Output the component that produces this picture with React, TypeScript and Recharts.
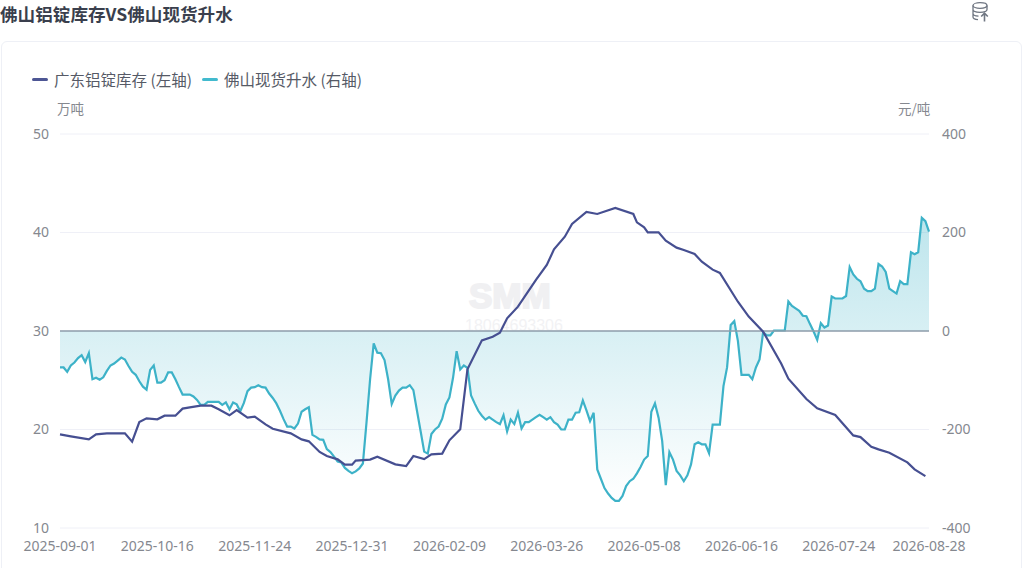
import {
  Area,
  CartesianGrid,
  ComposedChart,
  Legend,
  Line,
  ReferenceLine,
  XAxis,
  YAxis,
} from 'recharts';

const TITLE = '佛山铝锭库存VS佛山现货升水';
const STOCK_NAME = '广东铝锭库存 (左轴)';
const PREMIUM_NAME = '佛山现货升水 (右轴)';

const tickIndexes = [0, 27, 54, 81, 108, 135, 162, 189, 216, 241];
const tickLabels = [
  '2025-09-01', '2025-10-16', '2025-11-24', '2025-12-31', '2026-02-09',
  '2026-03-26', '2026-05-08', '2026-06-16', '2026-07-24', '2026-08-28',
];
const leftTicks = [10, 20, 30, 40, 50];
const rightTicks = [-400, -200, 0, 200, 400];

// 佛山现货升水, one value per trading day
const premium = [
  -74, -74, -83, -70, -64, -55, -49, -63, -45, -98,
  -95, -99, -94, -81, -70, -66, -60, -54, -58, -71,
  -83, -89, -102, -113, -119, -79, -70, -105, -105, -100,
  -84, -84, -98, -114, -129, -129, -129, -133, -140, -150,
  -150, -144, -144, -144, -144, -150, -145, -159, -145, -149,
  -163, -146, -122, -115, -114, -110, -114, -115, -127, -136,
  -147, -162, -179, -194, -194, -198, -188, -164, -159, -155,
  -211, -215, -220, -221, -240, -246, -255, -265, -267, -278,
  -284, -289, -285, -279, -269, -186, -98, -25, -44, -45,
  -59, -98, -148, -131, -121, -115, -115, -110, -120, -162,
  -203, -245, -249, -209, -200, -194, -178, -149, -135, -95,
  -41, -78, -70, -75, -131, -147, -162, -172, -180, -175,
  -180, -185, -189, -171, -204, -180, -189, -166, -198, -185,
  -185, -180, -175, -170, -175, -180, -175, -185, -190, -200,
  -200, -180, -180, -166, -165, -141, -161, -183, -166, -281,
  -300, -319, -330, -339, -345, -345, -335, -315, -305, -300,
  -289, -276, -261, -254, -164, -147, -176, -223, -313, -246,
  -261, -284, -293, -305, -293, -271, -230, -226, -230, -230,
  -248, -190, -190, -190, -112, -74, 12, 20, -20, -89,
  -89, -89, -98, -74, -58, -3, -9, -9, 1, 1,
  1, 1, 60, 51, 46, 41, 31, 30, 14, -1,
  -18, 16, 7, 11, 70, 66, 66, 66, 71, 130,
  115, 106, 101, 86, 81, 81, 86, 136, 131, 120,
  86, 81, 76, 101, 95, 95, 160, 156, 160, 230,
  223, 202,
];

// 广东铝锭库存 is only published on some days, so it gets its own index list
const stockDays = [
  0, 3, 8, 10, 13, 18, 20, 22, 24, 27, 29, 32, 34, 36, 39, 42, 44, 47, 49, 52,
  54, 57, 59, 64, 67, 69, 72, 74, 77, 79, 81, 82, 86, 88, 93, 96, 98, 101, 103,
  106, 108, 111, 113, 117, 120, 122, 124, 127, 132, 135, 137, 140, 142, 146,
  149, 154, 159, 160, 162, 163, 166, 168, 171, 173, 176, 178, 181, 183, 188,
  191, 195, 200, 202, 207, 210, 215, 220, 222, 225, 227, 230, 235, 237, 240,
];
const stockValues = [
  19.51, 19.31, 19.0, 19.51, 19.61, 19.61, 18.76, 20.76, 21.13, 21.03, 21.4,
  21.4, 22.12, 22.25, 22.42, 22.42, 22.05, 21.44, 21.98, 21.2, 21.3, 20.52,
  20.08, 19.61, 19.0, 18.8, 17.72, 17.31, 16.97, 16.43, 16.43, 16.84, 16.94,
  17.24, 16.46, 16.29, 17.31, 17.0, 17.48, 17.55, 18.9, 20.02, 26.11, 29.05,
  29.42, 29.83, 31.29, 32.47, 35.18, 36.7, 38.29, 39.57, 40.86, 42.08, 41.88,
  42.49, 41.88, 41.03, 40.53, 40.02, 40.02, 39.17, 38.46, 38.22, 37.82, 37.04,
  36.23, 35.89, 32.97, 31.46, 29.93, 26.71, 25.16, 23.1, 22.15, 21.47, 19.4,
  19.23, 18.25, 17.98, 17.64, 16.66, 15.95, 15.27,
];

const rows = premium.map((value, idx) => {
  const pos = stockDays.indexOf(idx);
  return { idx, premium: value, stock: pos >= 0 ? stockValues[pos] : null };
});

const tickFont = { fontSize: 14, fill: '#85888f', fontFamily: "'Noto Sans', 'Noto Sans CJK SC'" };
const cjk = "'Noto Sans CJK SC', 'Noto Sans', sans-serif";

function ChartLegend() {
  const items = [
    { name: STOCK_NAME, color: '#4d5694', x: 32 },
    { name: PREMIUM_NAME, color: '#42bace', x: 202 },
  ];
  return (
    <div style={{ position: 'relative', width: 400, height: 24 }}>
      {items.map((item) => (
        <div key={item.name} style={{ position: 'absolute', left: item.x - 32, top: 0, display: 'flex', alignItems: 'center', height: 22 }}>
          <span style={{ width: 16, height: 3, borderRadius: 2, background: item.color, marginRight: 6 }} />
          <span style={{ fontSize: 15.5, color: '#565a66', fontFamily: cjk, whiteSpace: 'nowrap' }}>{item.name}</span>
        </div>
      ))}
    </div>
  );
}

export default function App() {
  return (
    <div style={{ position: 'absolute', left: 0, top: 0, width: 1024, height: 568, overflow: 'hidden', background: '#fff', fontFamily: cjk }}>
      <div style={{ position: 'absolute', left: 0, top: 1, fontSize: 17.6, fontWeight: 700, color: '#3a3f4d', whiteSpace: 'nowrap' }}>{TITLE}</div>

      <svg width={20} height={22} viewBox="0 0 20 22" style={{ position: 'absolute', left: 971, top: 1 }} fill="none" stroke="#6f7682" strokeWidth={1.3}>
        <ellipse cx={9} cy={4.5} rx={7} ry={2.8} />
        <path d="M2 4.5V16c0 1.3 2.2 2.4 5 2.7M2 8.5c0 1.5 3 2.8 7 2.8s7-1.3 7-2.8V4.5M2 12.5c0 1.4 2.4 2.5 5.5 2.7" />
        <path d="M13.5 20.5v-8M10.2 15.5l3.3-3.3 3.3 3.3" strokeWidth={1.6} />
      </svg>

      <div style={{ position: 'absolute', left: 1, top: 41, width: 1021, height: 560, border: '1px solid #eef0f6', borderRadius: 6, boxSizing: 'border-box' }} />

      <div style={{ position: 'absolute', left: 469, top: 282, fontSize: 35, lineHeight: '28px', fontWeight: 700, color: '#f0f0f2', WebkitTextStroke: '2px #f0f0f2', fontFamily: "'Liberation Sans', sans-serif" }}>SMM</div>
      <div style={{ position: 'absolute', left: 465, top: 317, fontSize: 16, lineHeight: '18px', color: '#f2f2f4', fontFamily: "'Liberation Sans', sans-serif" }}>18064693306</div>

      <div style={{ position: 'absolute', left: 57, top: 98, fontSize: 13.5, color: '#85888f' }}>万吨</div>
      <div style={{ position: 'absolute', left: 898, top: 98, fontSize: 13.5, color: '#85888f' }}>元/吨</div>

      <div style={{ position: 'absolute', left: 0, top: 0 }}>
        <ComposedChart width={1024} height={568} data={rows} margin={{ top: 110, right: 45, bottom: 10, left: 10 }}>
          <defs>
            <linearGradient id="premiumFill" x1="0" y1="0" x2="0" y2="1">
              <stop offset="0%" stopColor="#3eb3c8" stopOpacity={0.34} />
              <stop offset="100%" stopColor="#3eb3c8" stopOpacity={0} />
            </linearGradient>
          </defs>
          <CartesianGrid yAxisId="left" vertical={false} stroke="#eff0f7" />
          <XAxis
            dataKey="idx"
            type="number"
            domain={[0, 241]}
            ticks={tickIndexes}
            interval={0}
            height={30}
            axisLine={false}
            tickLine={false}
            tickMargin={7}
            tick={tickFont}
            tickFormatter={(v: number) => tickLabels[tickIndexes.indexOf(v)]}
          />
          <YAxis yAxisId="left" domain={[10, 50]} ticks={leftTicks} width={50} axisLine={false} tickLine={false} tickMargin={5} tick={tickFont} />
          <YAxis yAxisId="right" orientation="right" domain={[-400, 400]} ticks={rightTicks} width={50} axisLine={false} tickLine={false} tickMargin={7} tick={tickFont} />
          <Legend verticalAlign="top" content={<ChartLegend />} wrapperStyle={{ position: 'absolute', left: 32, top: 68, width: 400 }} />
          <Area
            yAxisId="right"
            name={PREMIUM_NAME}
            dataKey="premium"
            type="linear"
            stroke="#3db2c8"
            strokeWidth={2.2}
            fill="url(#premiumFill)"
            fillOpacity={1}
            dot={false}
            activeDot={false}
            isAnimationActive={false}
          />
          <ReferenceLine yAxisId="right" y={0} stroke="#8f9eab" strokeWidth={1.5} />
          <Line
            yAxisId="left"
            name={STOCK_NAME}
            dataKey="stock"
            type="linear"
            stroke="#464f91"
            strokeWidth={2.2}
            dot={false}
            activeDot={false}
            connectNulls
            isAnimationActive={false}
          />
        </ComposedChart>
      </div>
    </div>
  );
}
